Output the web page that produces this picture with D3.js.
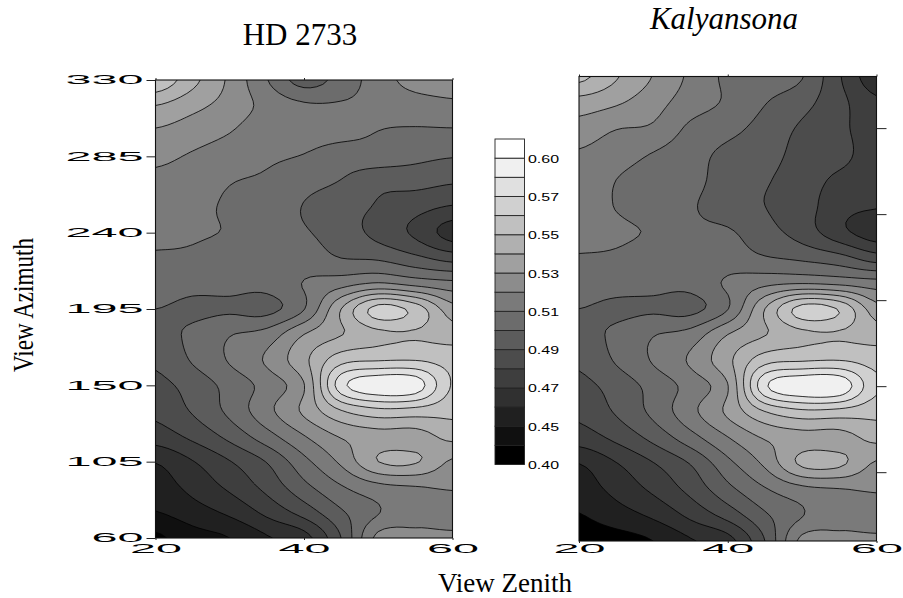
<!DOCTYPE html>
<html><head><meta charset="utf-8">
<script src="https://cdn.jsdelivr.net/npm/d3@7"></script>
<style>html,body{margin:0;padding:0;background:#fff}svg{display:block}</style></head>
<body><svg id="c" width="903" height="598"></svg>
<script>
// Reflectance ×100, one array per view zenith, ordered by view azimuth 60 → 330
const zeniths = [20,25,30,35,40,45,50,55,60];
const azimuths = [60,75,90,105,120,135,150,165,180,195,210,225,240,255,270,285,300,315,330];
const hdZ20 = [43.8,44.95,45.5,46.05,47.5,48.25,48.7,49.2,49.65,50,50.5,50.9,51.2,51.5,51.8,52.2,52.9,54,55.8];
const hdZ25 = [44.6,45.55,46.3,46.95,48.25,49.1,49.4,50.1,50.2,49.8,50.3,50.8,51.15,51.4,51.65,51.9,52.5,53.3,54.3];
const hdZ30 = [45,46.2,47.2,47.95,49.3,50.25,50.35,51.1,50.95,49.85,50.3,50.4,50.9,50.8,51.05,51.5,52.05,52.6,52.8];
const hdZ35 = [45.9,47.25,48.3,49.05,50.6,51.7,51.4,52.15,51.4,49.7,50.3,50.25,50.4,50.6,50.85,51.15,51.4,51.7,51.05];
const hdZ40 = [46.6,48.4,49.7,50.7,51.95,53.2,52.95,53.75,53,50.95,51.05,50.5,50.1,49.95,50.35,50.95,51.35,51.15,49.6];
const hdZ45 = [49,49.85,50.9,52.2,53.1,54.95,57.6,55.6,53.95,54,51.6,50,49.5,49.4,49.95,50.5,51.3,51.1,50.4];
const hdZ50 = [52.3,50.95,51.7,54,53.6,55.7,58.8,55.9,54.75,56.4,52.1,49.85,48.7,48.9,49.3,50.55,51,51.25,51.5];
const hdZ55 = [52.2,51.7,51.95,54.1,53.6,55.6,58.6,55.95,54.9,55.6,51.65,49.25,47.8,48.35,49.35,50.25,50.9,51.5,52.4];
const hdZ60 = [52.2,51.5,52.1,52.85,54.3,55.3,55.9,55.6,54.5,53.4,51.3,48.6,46.55,47.9,49.1,50.05,50.9,51.75,52.6];
const kaZ20 = [44.5,44.95,45.5,46,47.5,48.25,48.7,49.2,49.65,50,50.5,50.95,51.25,51.5,51.7,51.9,52.6,53.6,55.3];
const kaZ25 = [44.6,45.55,46.3,46.95,48.25,49.1,49.4,50.1,50.2,49.8,50.4,50.85,51.2,50.95,51,51.45,52.05,53.15,54.1];
const kaZ30 = [45,46.2,47.2,47.95,49.3,50.25,50.35,51.1,50.95,49.85,50.3,50.45,50.85,50.35,50.6,50.95,51.85,52.4,52.95];
const kaZ35 = [45.9,47.25,48.3,49.05,50.6,51.7,51.4,52.15,51.4,49.7,50.3,50.25,50.2,50.1,50.35,50.4,50.8,51.5,51.8];
const kaZ40 = [46.6,48.4,49.7,50.7,51.95,53.2,52.95,53.75,53,50.95,51.15,50.45,50.1,49.45,49.5,49.75,50.3,50.85,50.8];
const kaZ45 = [49,49.85,50.9,52.2,53.1,54.95,57.8,55.6,53.95,54,51.7,50.05,49.35,49,49.1,49.4,49.65,50.05,50.55];
const kaZ50 = [52.3,50.95,51.7,54.2,53.6,55.7,58.9,55.9,54.75,56.4,51.9,49.75,48.55,48.45,48.5,48.65,48.85,49.35,50.05];
const kaZ55 = [52.2,51.7,51.95,54.2,53.6,55.6,58.8,56,54.9,55.9,51.7,49.3,47.3,47.4,47.8,48.3,48.25,48.3,48.1];
const kaZ60 = [52.2,51.5,52.1,52.85,54.3,55.3,56.2,55.6,54.5,53.4,51.4,48.4,46.4,47.1,47.5,47.5,47.4,47.2,46.3];
const levels = [44,45,46,47,48,49,50,51,52,53,54,55,56,57,58,60];
const bandGreys = [0,16,32,48,62,76,92,108,122,140,160,176,192,208,224,240,255];
const legendLabels = ["0.40","0.45","0.47","0.49","0.51","0.53","0.55","0.57","0.60"];
const azTicks = [60,105,150,195,240,285,330];
const azTicksRight = [100,150,200,250,300];
const zenTicks = [20,40,60];

const svg = d3.select("#c");
const F = 6;
function catmull(p0,p1,p2,p3,t){
  return 0.5*(2*p1+(p2-p0)*t+(2*p0-5*p1+4*p2-p3)*t*t+(3*p1-p0-3*p2+p3)*t*t*t);
}
function resample(a){
  const out=[], n=a.length;
  for(let i=0;i<n-1;i++) for(let k=0;k<F;k++){
    const p0=a[Math.max(i-1,0)],p1=a[i],p2=a[i+1],p3=a[Math.min(i+2,n-1)];
    out.push(catmull(p0,p1,p2,p3,k/F));
  }
  out.push(a[n-1]);
  return out;
}
function fineGrid(cols){
  const byCol = cols.map(resample);
  const nr = byCol[0].length;
  const rows = [];
  for(let r=0;r<nr;r++) rows.push(resample(byCol.map(c=>c[r])));
  return {w:rows[0].length,h:nr,values:rows.flat()};
}
function panel(id,cols,box,opts){
  const x=d3.scaleLinear().domain([20,60]).range([box.x0,box.x1]);
  const y=d3.scaleLinear().domain([60,330]).range([box.y0,box.y1]);
  const g=svg.append("g");
  svg.append("clipPath").attr("id",id).append("rect")
    .attr("x",box.x0).attr("y",box.y1).attr("width",box.x1-box.x0).attr("height",box.y0-box.y1);
  const plot=g.append("g").attr("clip-path",`url(#${id})`);
  const grid=fineGrid(cols);
  const zx=d3.scaleLinear().domain([0.5,grid.w-0.5]).range([box.x0,box.x1]);
  const zy=d3.scaleLinear().domain([0.5,grid.h-0.5]).range([box.y0,box.y1]);
  const path=d3.geoPath(d3.geoTransform({point(a,b){this.stream.point(zx(a),zy(b));}}));
  const shade=i=>{const v=(i===1&&opts.lowest!==undefined)?opts.lowest:bandGreys[i];return d3.rgb(v,v,v).formatHex();};
  plot.append("rect").attr("x",box.x0).attr("y",box.y1).attr("width",box.x1-box.x0).attr("height",box.y0-box.y1).attr("fill",shade(0));
  const cs=d3.contours().size([grid.w,grid.h]).smooth(true).thresholds(levels)(grid.values);
  plot.selectAll("path").data(cs).join("path")
    .attr("d",path).attr("fill",(d,i)=>shade(i+1))
    .attr("stroke","#000").attr("stroke-width",0.8).attr("stroke-linejoin","round");
  g.append("rect").attr("x",box.x0).attr("y",box.y1).attr("width",box.x1-box.x0).attr("height",box.y0-box.y1)
    .attr("fill","none").attr("stroke","#111").attr("stroke-width",1.1);
  const style=s=>{s.select(".domain").remove();s.selectAll("line").attr("stroke","#222");};
  const wide=(sel,perChar,anchor)=>sel.selectAll("text")
    .attr("font-family","Liberation Sans").attr("font-size",12).attr("fill","#000")
    .attr("text-anchor",anchor).attr("lengthAdjust","spacingAndGlyphs")
    .attr("textLength",function(){return this.textContent.length*perChar;});
  if(opts.labels){
    const ay=g.append("g").attr("transform",`translate(${box.x0},0)`)
      .call(d3.axisLeft(y).tickValues(azTicks).tickSize(9).tickPadding(3).tickFormat(d3.format("d")));
    style(ay);wide(ay,26,"end");
  } else {
    const ay=g.append("g").attr("transform",`translate(${box.x1},0)`)
      .call(d3.axisRight(y).tickValues(azTicksRight).tickSize(10).tickFormat(""));
    style(ay);
  }
  const ax=g.append("g").attr("transform",`translate(0,${box.y0})`)
    .call(d3.axisBottom(x).tickValues(zenTicks).tickSize(2).tickPadding(4).tickFormat(d3.format("d")));
  style(ax);wide(ax,26,"middle");
  ax.selectAll("text").attr("dy","0.75em").attr("y",opts.labels?5.5:3);
  const at=g.append("g").attr("transform",`translate(0,${box.y1})`)
    .call(d3.axisTop(x).tickValues(zenTicks).tickSize(2).tickFormat(""));
  style(at);
}
panel("p1",[hdZ20,hdZ25,hdZ30,hdZ35,hdZ40,hdZ45,hdZ50,hdZ55,hdZ60],{x0:155.5,x1:452.5,y0:538,y1:80},{labels:true});
panel("p2",[kaZ20,kaZ25,kaZ30,kaZ35,kaZ40,kaZ45,kaZ50,kaZ55,kaZ60],{x0:579,x1:876.5,y0:541,y1:76.5},{labels:false,lowest:0});

const bandY=d3.scaleLinear().domain([0,17]).range([464.5,139]);
const bar=svg.append("g");
bar.selectAll("rect").data(bandGreys).join("rect")
  .attr("x",495).attr("width",29.5)
  .attr("y",(d,i)=>bandY(i+1)).attr("height",(d,i)=>bandY(i)-bandY(i+1))
  .attr("fill",d=>d3.rgb(d,d,d).formatHex()).attr("stroke","#222").attr("stroke-width",0.9);
bar.selectAll("text").data(legendLabels).join("text")
  .attr("x",528).attr("y",(d,i)=>bandY(i*2)+4.5)
  .attr("font-family","Liberation Sans").attr("font-size",11).attr("fill","#000")
  .attr("textLength",31).attr("lengthAdjust","spacingAndGlyphs").text(d=>d);

const serif=(t,x,y,size)=>svg.append("text").attr("x",x).attr("y",y)
  .attr("font-family","Liberation Serif").attr("font-size",size).attr("text-anchor","middle").attr("fill","#000").text(t);
serif("HD 2733",300,45,31);
serif("Kalyansona",724,29,31).attr("font-style","italic");
serif("View Zenith",505,592,27);
serif("View Azimuth",0,0,29).attr("transform","translate(33,305) rotate(-90)")
  .attr("textLength",134).attr("lengthAdjust","spacingAndGlyphs");
</script></body></html>
